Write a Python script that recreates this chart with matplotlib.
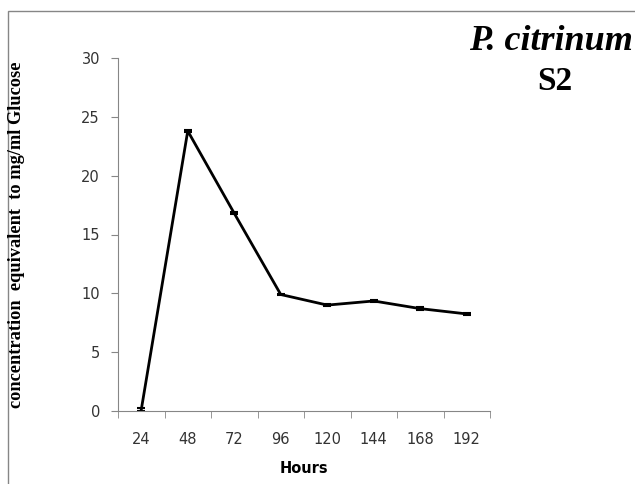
import matplotlib
matplotlib.use("Agg")
import matplotlib.pyplot as plt
from matplotlib.patches import Rectangle
import numpy as np

hours = ["24", "48", "72", "96", "120", "144", "168", "192"]
conc = [0.1, 23.8, 16.8, 9.9, 9.0, 9.35, 8.7, 8.25]
err = [0.12, 0.12, 0.1, 0.08, 0.1, 0.06, 0.12, 0.05]
yticks = [0, 5, 10, 15, 20, 25, 30]

W, H = 635, 484
fig = plt.figure(figsize=(W / 100, H / 100), dpi=100)
fig.patches.append(Rectangle((8 / W, -0.2), 1.2, 0.2 + 1 - 11 / H, transform=fig.transFigure,
                             fill=False, edgecolor="#868686", linewidth=1.0))

ax = fig.add_axes([118 / W, 1 - 411 / H, (490 - 118) / W, (411 - 58) / H])
x = np.arange(len(hours))
ax.errorbar(x, conc, yerr=err, color="black", linewidth=2.0, capsize=3, elinewidth=1.5, capthick=1.5)
ax.set_xlim(-0.5, len(hours) - 0.5)
ax.set_ylim(0, 30)
ax.set_yticks(yticks)
ax.set_xticks(x)
ax.set_xticklabels(hours)
ax.set_xticks(np.arange(-0.5, len(hours)), minor=True)
ax.tick_params(axis="x", which="major", length=0, pad=15, labelsize=10.5, labelcolor="#333333")
ax.tick_params(axis="x", which="minor", length=5, color="#868686", direction="out")
ax.tick_params(axis="y", length=5, color="#868686", labelsize=10.5, labelcolor="#333333", pad=8)
for s in ["top", "right"]:
    ax.spines[s].set_visible(False)
for s in ["left", "bottom"]:
    ax.spines[s].set_color("#868686")
ax.set_xlabel("Hours", fontsize=10.5, fontweight="bold", labelpad=10)
fig.text(17 / W, 1 - 235 / H, "concentration  equivalent  to mg/ml Glucose", rotation=90,
         family="Liberation Serif", fontweight="bold", fontsize=13.2, ha="center", va="center")
fig.text(469 / W, 1 - 41 / H, "P. citrinum", family="Liberation Serif", fontstyle="italic",
         fontweight="bold", fontsize=26, ha="left", va="center")
fig.text(555 / W, 1 - 81 / H, "S2", family="Liberation Serif", fontweight="bold", fontsize=24,
         ha="center", va="center")
fig.savefig("out.png", dpi=100)
